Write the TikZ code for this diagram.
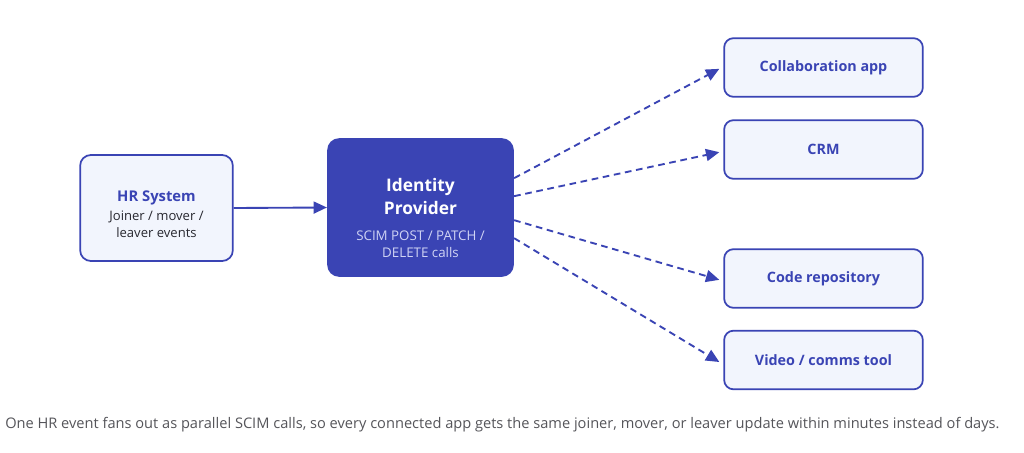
\documentclass[tikz,border=0pt]{standalone}
\usepackage{fontspec}
\setmainfont{Open Sans}
\usetikzlibrary{arrows.meta}
\definecolor{idblue}{RGB}{58,68,180}
\definecolor{lightfill}{RGB}{242,245,253}
\definecolor{subtext}{RGB}{40,40,48}
\definecolor{lavender}{RGB}{208,212,244}
\definecolor{captiongray}{RGB}{85,85,90}
\newcommand{\hrtitle}{\fontsize{11.1pt}{13pt}\selectfont\bfseries\color{idblue}}
\newcommand{\hrsub}{\fontsize{9.8pt}{12.75pt}\selectfont\mdseries\color{subtext}}
\newcommand{\idtitle}{\fontsize{13pt}{17.25pt}\selectfont\bfseries\color{white}}
\newcommand{\idsub}{\fontsize{10pt}{12.75pt}\selectfont\mdseries\color{lavender}}
\tikzset{
  appbox/.style={draw=idblue, line width=1.3pt, fill=lightfill, rounded corners=7pt,
    minimum width=149pt, minimum height=44pt, inner sep=0pt, align=center,
    font=\fontsize{10.75pt}{12pt}\selectfont\bfseries, text=idblue},
  hrbox/.style={draw=idblue, line width=1.3pt, fill=lightfill, rounded corners=8pt,
    minimum width=114.5pt, minimum height=79.5pt, inner sep=0pt},
  idpbox/.style={fill=idblue, rounded corners=9pt,
    minimum width=140pt, minimum height=104pt, inner sep=0pt},
  solidarrow/.style={draw=idblue, line width=1.4pt, -{Triangle[length=10pt,width=9pt]}},
  dasharrow/.style={draw=idblue, line width=1.4pt, dash pattern=on 5pt off 3.5pt,
    -{Triangle[length=10pt,width=9pt]}}
}
\begin{document}
\begin{tikzpicture}[x=0.75pt,y=-0.75pt]
\useasboundingbox[fill=white] (0,0) rectangle (1024,453);
\node[hrbox] (hr) at (156.5,208) {%
  \begin{minipage}{110pt}\centering
  \vspace*{9pt}
  \hrtitle HR System\par\vspace{1.5pt}
  \hrsub Joiner / mover /\\leaver events\par
  \end{minipage}};
\node[idpbox] (idp) at (420.5,207.5) {%
  \begin{minipage}{136pt}\centering
  \vspace*{15pt}
  \idtitle Identity\\Provider\par\vspace{6.75pt}
  \idsub SCIM POST / PATCH /\\DELETE calls\par
  \end{minipage}};
\node[appbox] (collab) at (823.5,67.5) {Collaboration app};
\node[appbox] (crm) at (823.5,149.5) {CRM};
\node[appbox] (code) at (823.5,278.5) {Code repository};
\node[appbox] (video) at (823.5,360) {Video / comms tool};
\draw[solidarrow] (hr.east) -- (idp.west);
\draw[dasharrow] ([yshift=22pt]idp.east) -- ([xshift=-3pt,yshift=-1pt]collab.west);
\draw[dasharrow] ([yshift=8.5pt]idp.east) -- ([xshift=-3pt,yshift=-2pt]crm.west);
\draw[dasharrow] ([yshift=-9.5pt]idp.east) -- ([xshift=-3pt,yshift=-1pt]code.west);
\draw[dasharrow] ([yshift=-23pt]idp.east) -- ([xshift=-3pt,yshift=-1.5pt]video.west);
\node[anchor=west, inner sep=0pt, text=captiongray, font=\fontsize{10.96pt}{14pt}\selectfont] (cap) at (5,425) {One HR event fans out as parallel SCIM calls, so every connected app gets the same joiner, mover, or leaver update within minutes instead of days.};
\end{tikzpicture}
\end{document}
